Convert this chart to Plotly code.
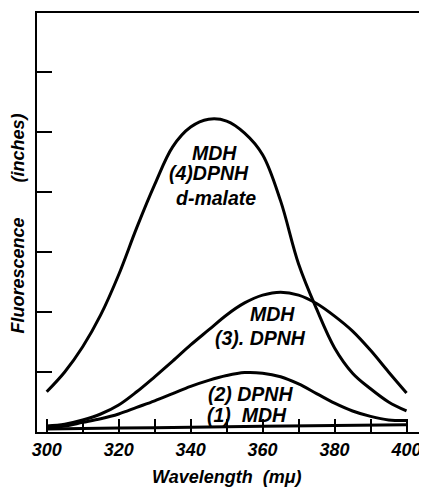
import plotly.graph_objects as go

wl = [300, 305, 310, 315, 320, 325, 330, 335, 340, 345, 350, 355, 360, 365, 370, 375, 380, 385, 390, 395, 400]
# Curve (4) MDH + DPNH + d-malate
y4 = [0.67, 1.0, 1.42, 1.95, 2.62, 3.4, 4.12, 4.75, 5.08, 5.21, 5.18, 4.98, 4.62, 3.85, 2.8, 2.05, 1.4, 0.98, 0.72, 0.5, 0.35]
# Curve (3) MDH + DPNH
y3 = [0.1, 0.13, 0.2, 0.3, 0.45, 0.67, 0.92, 1.18, 1.45, 1.7, 1.95, 2.15, 2.28, 2.33, 2.28, 2.14, 1.93, 1.68, 1.36, 1.0, 0.65]
# Curve (2) DPNH
y2 = [0.07, 0.1, 0.16, 0.22, 0.3, 0.41, 0.52, 0.64, 0.76, 0.86, 0.94, 0.99, 0.98, 0.92, 0.8, 0.64, 0.48, 0.35, 0.26, 0.2, 0.19]
# Curve (1) MDH
x1 = [300, 320, 340, 360, 380, 400]
y1 = [0.05, 0.065, 0.08, 0.095, 0.11, 0.12]

x_tick_vals = [300, 320, 340, 360, 380, 400]
x_tick_text = ["300", "320", "340", "360", "380", "400"]
y_tick_vals = [1, 2, 3, 4, 5, 6]

labels = [
    ("MDH", 346.5, 4.65),
    ("(4)DPNH", 345.2, 4.31),
    ("d-malate", 347.0, 3.9),
    ("MDH", 362.7, 1.97),
    ("(3). DPNH", 359.4, 1.57),
    ("(2) DPNH", 356.7, 0.64),
    ("(1)\u00a0\u00a0MDH", 355.7, 0.29),
]

FONT = "Liberation Sans, Arial, sans-serif"

fig = go.Figure()
for xs, ys in [(wl, y4), (wl, y3), (wl, y2), (x1, y1)]:
    fig.add_trace(go.Scatter(x=xs, y=ys, mode="lines",
                             line=dict(color="black", width=3, shape="spline", smoothing=1.0),
                             showlegend=False, hoverinfo="skip"))

for txt, lx, ly in labels:
    fig.add_annotation(x=lx, y=ly, text="<b><i>" + txt + "</i></b>", showarrow=False,
                       font=dict(family=FONT, size=19.5, color="black"),
                       xanchor="center", yanchor="middle")

fig.add_annotation(xref="paper", yref="paper", x=-0.049, y=0.498, textangle=-90,
                   text="<b><i>Fluorescence" + "\u00a0" * 7 + "(inches)</i></b>",
                   showarrow=False, font=dict(family=FONT, size=18, color="black"),
                   xanchor="center", yanchor="middle")
fig.add_annotation(xref="paper", yref="paper", x=0.4935, y=-0.1085,
                   text="<b><i>Wavelength\u00a0\u00a0(m\u03bc)</i></b>",
                   showarrow=False, font=dict(family=FONT, size=18, color="black"),
                   xanchor="center", yanchor="middle")

# The page body has an 8px margin, so the figure is 8px smaller and margins shifted
fig.update_layout(
    width=419, height=479,
    margin=dict(l=29, r=3, t=5, b=54.5),
    paper_bgcolor="white", plot_bgcolor="white",
    xaxis=dict(range=[297.3, 404.3], tickvals=x_tick_vals, ticktext=x_tick_text,
               ticks="inside", ticklen=13, tickwidth=1.5, tickcolor="black",
               minor=dict(dtick=10, tick0=300, ticks="inside", ticklen=13, tickwidth=1.5, tickcolor="black"),
               showgrid=False, zeroline=False, showline=True, linecolor="black", linewidth=2,
               mirror=True,
               tickfont=dict(family=FONT, size=18, color="black", weight="bold", style="italic")),
    yaxis=dict(range=[0, 6.98], tickvals=y_tick_vals, showticklabels=False,
               ticks="inside", ticklen=15, tickwidth=1.5, tickcolor="black",
               showgrid=False, zeroline=False, showline=True, linecolor="black", linewidth=2,
               mirror=True),
)

fig.write_html("out.html")
